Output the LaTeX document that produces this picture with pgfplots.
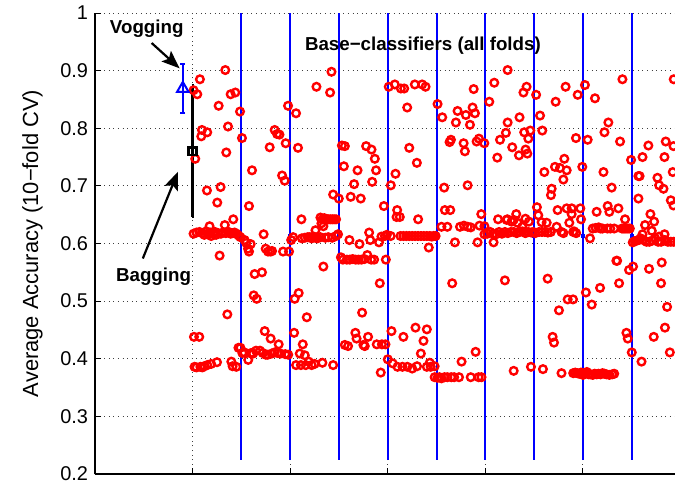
\documentclass[border=0pt]{standalone}
\usepackage{fontspec}
\setmainfont{Liberation Sans}
\usepackage{pgfplots}
\pgfplotsset{compat=1.18}
\usetikzlibrary{arrows.meta}
\begin{document}
\begin{tikzpicture}
\begin{axis}[
  scale only axis, width=290bp, height=230.5bp,
  xmin=-100, xmax=494.3, ymin=0.2, ymax=1,
  axis x line*=bottom, axis y line*=left,
  axis line style={line width=0.6bp},
  tick align=inside,
  major tick length=3bp,
  tick style={line width=0.5bp, black},
  xtick={-100,0,100,200,300,400}, xticklabels={},
  ytick={0.2,0.3,0.4,0.5,0.6,0.7,0.8,0.9,1},
  yticklabels={0.2,0.3,0.4,0.5,0.6,0.7,0.8,0.9,1},
  grid=major,
  major grid style={black!75, line width=0.5bp, dash pattern=on 0.5bp off 1.8bp},
  /pgf/number format/assume math mode=true,
  tick label style={font=\fontsize{10}{12}\selectfont},
  ylabel={Average Accuracy (10−fold CV)},
  ylabel style={at={(axis description cs:-0.108,0.5)}, anchor=center, font=\fontsize{11}{13}\selectfont},
  clip=true,
]
\coordinate (ll) at (rel axis cs:0,0);
\coordinate (ur) at (rel axis cs:1,1);
% fold separators
\addplot[blue, line width=1bp] coordinates {(50,0.225)(50,1)};
\addplot[blue, line width=1bp] coordinates {(100,0.225)(100,1)};
\addplot[blue, line width=1bp] coordinates {(150,0.225)(150,1)};
\addplot[blue, line width=1bp] coordinates {(200,0.225)(200,1)};
\addplot[blue, line width=1bp] coordinates {(250,0.225)(250,1)};
\addplot[blue, line width=1bp] coordinates {(300,0.225)(300,1)};
\addplot[blue, line width=1bp] coordinates {(350,0.225)(350,1)};
\addplot[blue, line width=1bp] coordinates {(400,0.225)(400,1)};
\addplot[blue, line width=1bp] coordinates {(450,0.225)(450,1)};
\addplot[only marks, mark=square*, blue, mark size=0.8bp] coordinates {(50,0.613)(100,0.613)(150,0.613)(200,0.613)(250,0.613)(300,0.613)(350,0.613)(400,0.613)(450,0.613)};
% base classifiers
\addplot[only marks, mark=o, red, mark size=1.9bp, line width=1.2bp] coordinates {
(33.5,0.901)(7.5,0.885)(1,0.866)(4.8,0.859)(39,0.859)(43.8,0.862)(26.7,0.839)(48.6,0.829)(36.3,0.803)(9.6,0.797)(8.9,0.786)(15,0.793)(34.5,0.758)(2.7,0.747)(14.7,0.692)(28.7,0.698)(25.3,0.671)(41.7,0.642)(17.4,0.630)(33,0.632)(27.7,0.579)(35.6,0.477)(1.4,0.438)(6.8,0.438)(47,0.419)
(1,0.617)(4,0.619)(7,0.620)(10,0.618)(12,0.615)(14,0.621)(16,0.616)(18,0.619)(19,0.613)(21,0.617)(23,0.620)(24,0.615)(26,0.618)(29,0.617)(31,0.619)(34,0.618)(37,0.620)(39,0.617)(41,0.618)(43,0.619)(45,0.617)(47,0.614)(49,0.611)
(2,0.386)(4,0.385)(8,0.386)(10,0.385)(12,0.387)(15,0.389)(19,0.391)(25,0.394)(39.7,0.395)(41,0.387)(44.8,0.386)
(50.6,0.783)(60.9,0.727)(57.8,0.665)(72.8,0.616)(53.3,0.606)(55,0.601)(56.8,0.591)(57.8,0.586)(59.5,0.599)(74.9,0.591)(77.3,0.586)(80,0.586)(81.4,0.587)(92.7,0.586)(98.8,0.586)(63.6,0.547)(71.1,0.550)(62.6,0.510)(65.7,0.504)(73.9,0.448)(80,0.435)(88.2,0.425)(79,0.767)(84.1,0.797)(86.6,0.790)(89,0.789)(95.4,0.774)(97.8,0.839)(91.7,0.718)(94.4,0.709)
(49,0.419)(51,0.410)(53,0.411)(57,0.398)(60,0.410)(62,0.409)(65,0.414)(69,0.414)(72,0.410)(75,0.407)(77,0.407)(81,0.409)(84,0.411)(87,0.410)(90,0.409)(95,0.408)(98,0.407)
(106,0.826)(108,0.766)(126.9,0.872)(142.3,0.898)(140.9,0.862)(101,0.606)(103,0.611)(104.6,0.504)(108.7,0.514)(117,0.472)(104,0.445)(112.9,0.425)(109.8,0.409)(115,0.406)(111.5,0.642)(125.9,0.623)(134,0.560)(144,0.685)(149.8,0.678)
(112,0.609)(115,0.610)(118,0.611)(120,0.611)(122,0.609)(124,0.612)(126,0.610)(128,0.609)(131,0.611)(136,0.610)(139,0.611)(143,0.610)(147,0.613)(149,0.616)
(132,0.635)(133,0.642)(135,0.644)(137,0.642)(139,0.642)(141,0.642)(143,0.642)(145,0.642)(147,0.642)(131,0.645)(134,0.630)
(106,0.389)(111,0.389)(116,0.389)(119,0.395)(122,0.389)(125,0.391)(133,0.393)(144,0.389)
(153,0.770)(155,0.734)(156,0.769)(169,0.727)(177.8,0.769)(183.3,0.763)(186.7,0.747)(188,0.727)(184,0.707)(165.5,0.703)(162,0.681)(172.3,0.678)(196,0.665)(160.7,0.606)(171,0.599)(180.9,0.619)(182,0.606)(191,0.602)(193.5,0.612)(197,0.613)(179,0.580)(191.8,0.531)(173.7,0.480)(166.8,0.445)(168,0.435)(179.8,0.438)(175,0.424)(156,0.424)(159.3,0.422)(176.4,0.422)(188.7,0.425)(194,0.425)(197.6,0.425)(192.8,0.376)
(152,0.576)(154,0.572)(158,0.572)(161,0.572)(164,0.573)(167,0.572)(170,0.572)(173,0.572)(176,0.573)(183,0.572)(186,0.572)(198,0.572)
(201,0.872)(207.2,0.876)(213.4,0.869)(216.8,0.869)(227.7,0.876)(235.2,0.876)(238.7,0.872)(219.9,0.836)(222,0.766)(229.8,0.740)(207.9,0.721)(203.1,0.701)(209.6,0.658)(209,0.646)(212.3,0.646)(231.1,0.642)(242,0.593)(203.8,0.448)(216,0.438)(228.4,0.454)(240,0.451)(236.6,0.431)(233.9,0.409)
(199,0.615)(203,0.613)(213,0.613)(216,0.613)(219,0.613)(222,0.613)(225,0.613)(228,0.613)(231,0.613)(234,0.613)(237,0.613)(240,0.613)(243,0.613)(245,0.612)(247,0.613)(249,0.613)
(200,0.399)(205,0.392)(210,0.386)(215,0.386)(220,0.386)(225,0.383)(230,0.387)(240,0.386)(243,0.393)(248,0.387)(244,0.386)
(251,0.842)(255.8,0.819)(269.8,0.810)(271.5,0.830)(280,0.823)(286.9,0.836)(289.3,0.826)(284.2,0.806)(288,0.868)(263.3,0.776)(264.7,0.780)(277.7,0.774)(279,0.760)(291,0.777)(293.4,0.782)(298.9,0.774)(257.8,0.697)(281.8,0.701)(258.5,0.658)(264,0.658)(295.8,0.651)(268.8,0.602)(292,0.602)(266,0.531)(290,0.412)(275.6,0.395)
(255,0.629)(261,0.629)(274,0.629)(278,0.631)(282,0.629)(285,0.628)(294,0.631)(299,0.630)
(248,0.368)(251,0.367)(253,0.368)(255,0.366)(258,0.368)(261,0.368)(265,0.368)(268,0.368)(273,0.368)(285,0.368)(293,0.368)(296,0.368)
(322.8,0.901)(309.1,0.879)(304,0.846)(322.8,0.810)(321,0.792)(315,0.780)(312.2,0.749)(313,0.642)(322.5,0.642)(308.4,0.602)(320,0.536)
(342.2,0.872)(339,0.862)(335,0.819)(339.8,0.793)(346,0.796)(344,0.782)(327.5,0.767)(341.2,0.763)(334.4,0.753)(343,0.756)(329,0.379)(346.7,0.386)
(331.6,0.651)(326.8,0.638)(321.7,0.641)(337.8,0.629)(344.6,0.638)(329,0.641)(333,0.636)(341,0.643)
(299,0.616)(302,0.617)(305,0.620)(308,0.617)(311,0.616)(314,0.620)(317,0.617)(320,0.620)(323,0.618)(326,0.620)(329,0.620)(332,0.618)(335,0.620)(338,0.621)(341,0.618)(344,0.620)(347,0.619)
(352,0.858)(356,0.822)(358.3,0.796)(372,0.846)(382.2,0.872)(394.6,0.858)(392.8,0.783)(360.4,0.724)(371.3,0.733)(376.4,0.731)(383.3,0.727)(380.9,0.747)(379.9,0.711)(367.9,0.695)(367.2,0.684)(352.8,0.663)(354.2,0.649)(357.6,0.637)(362.8,0.636)(374,0.658)(383.3,0.661)(388.4,0.661)(388.4,0.651)(386,0.636)(397.3,0.661)(398,0.642)(373,0.629)(391,0.621)(363.8,0.539)(384.3,0.503)(389.8,0.503)(375.4,0.484)(368.9,0.438)(370.3,0.428)(359,0.382)(378,0.375)(399.3,0.733)
(349,0.620)(351,0.618)(355,0.620)(358,0.620)(361,0.620)(364,0.619)(367,0.620)(378,0.620)(380,0.618)(390,0.620)(393,0.618)
(390,0.375)(392,0.376)(394,0.375)(396,0.374)(398,0.376)(400,0.372)
(402,0.875)(412.3,0.852)(426,0.810)(422,0.793)(440.4,0.885)(438,0.777)(404.8,0.780)(421,0.724)(429.4,0.697)(414,0.655)(425.3,0.665)(427,0.655)(436.3,0.661)(443.1,0.642)(407.2,0.609)(434.2,0.570)(435,0.570)(447.2,0.554)(451.3,0.560)(437,0.531)(417.5,0.523)(403,0.515)(409,0.494)(444.5,0.445)(445.9,0.435)(450,0.411)
(410,0.626)(413,0.627)(416,0.628)(418,0.626)(420,0.626)(425,0.626)(428,0.626)(432,0.626)(440,0.626)(442,0.626)(444,0.626)(446,0.626)(448,0.626)
(402,0.375)(404,0.377)(406,0.373)(408,0.373)(410,0.372)(412,0.374)(414,0.373)(416,0.374)(418,0.373)(420,0.375)(422,0.374)(424,0.373)(427,0.372)(430,0.373)(432,0.374)
(467,0.770)(461,0.750)(456.8,0.717)(458,0.717)(449.3,0.745)(484.8,0.777)(492.7,0.769)(483.5,0.750)(476.3,0.714)(478,0.701)(482.5,0.695)(492,0.724)(490,0.675)(492.7,0.666)(456.8,0.678)(469.1,0.651)(472.9,0.638)(463.6,0.632)(470.5,0.622)(461,0.616)(480.7,0.567)(467.7,0.556)(480,0.531)(486.2,0.490)(484,0.454)(472.5,0.438)(489,0.411)(460,0.395)(493,0.885)
(451,0.602)(453,0.604)(455,0.605)(457,0.606)(459,0.609)(462,0.606)(465,0.603)(468,0.603)(471,0.605)(474,0.609)(477,0.603)(480,0.603)(484,0.606)(487,0.603)(490,0.603)(493,0.603)(483.6,0.616)(478,0.612)
};
% Vogging
\addplot[blue, line width=1bp, mark=triangle, mark size=3.3bp,
  error bars/.cd, y dir=both, y explicit,
  error bar style={line width=1bp, blue},
  error mark options={rotate=90, mark size=1.2bp, line width=1bp, blue}]
  coordinates {(-10,0.869) +- (0,0.043)};
% Bagging
\addplot[black, line width=1.3bp, mark=square, mark size=1.9bp,
  error bars/.cd, y dir=both, y explicit,
  error bar style={line width=1.2bp, black},
  error mark options={rotate=90, mark size=0.5bp, line width=1.2bp, black}]
  coordinates {(0,0.760) +- (0,0.114)};
% annotations
\draw[line width=1.1bp, -{Stealth[length=9bp, width=7bp, inset=1.8bp]}] (axis cs:-42,0.948) -- (axis cs:-13.3,0.904);
\draw[line width=1.1bp, -{Stealth[length=9bp, width=7bp, inset=1.8bp]}] (axis cs:-51,0.574) -- (axis cs:-15,0.7245);
\node[font=\bfseries\fontsize{9.4}{11}\selectfont] at (axis cs:-47,0.972) {Vogging};
\node[font=\bfseries\fontsize{9.4}{11}\selectfont] at (axis cs:-40,0.542) {Bagging};
\node[font=\bfseries\fontsize{9.4}{11}\selectfont] at (axis cs:236,0.944) {Base−classifiers (all folds)};
\end{axis}
\pgfresetboundingbox
\path[use as bounding box] ([xshift=-47.5bp,yshift=-5.5bp]ll) rectangle ([yshift=6.5bp]ur);
\end{tikzpicture}
\end{document}
